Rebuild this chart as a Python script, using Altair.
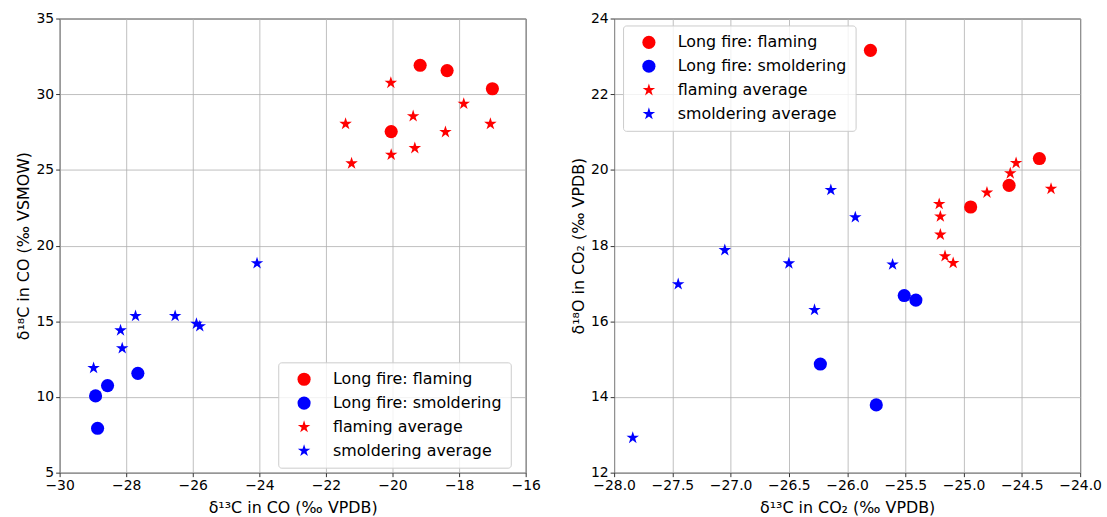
import altair as alt
import pandas as pd

# ---- data ----
series_names = ["Long fire: flaming", "Long fire: smoldering", "flaming average", "smoldering average"]

co_flaming_d13 = [-19.17, -18.36, -17.00, -20.04]
co_flaming_d18 = [31.91, 31.56, 30.36, 27.53]
co_smold_d13 = [-28.92, -28.56, -27.65, -28.86]
co_smold_d18 = [10.07, 10.75, 11.56, 7.93]
co_flavg_d13 = [-20.05, -21.41, -21.23, -20.04, -19.38, -19.33, -18.41, -17.86, -17.06]
co_flavg_d18 = [30.75, 28.04, 25.43, 26.00, 28.55, 26.44, 27.50, 29.37, 28.04]
co_smavg_d13 = [-28.98, -28.17, -28.12, -27.72, -26.53, -25.89, -25.79, -24.07]
co_smavg_d18 = [11.91, 14.40, 13.22, 15.35, 15.35, 14.84, 14.67, 18.83]

co2_flaming_d13 = [-25.80, -24.94, -24.61, -24.35]
co2_flaming_d18 = [23.16, 19.02, 19.59, 20.30]
co2_smold_d13 = [-26.23, -25.51, -25.41, -25.75]
co2_smold_d18 = [14.87, 16.68, 16.56, 13.79]
co2_flavg_d13 = [-25.21, -25.20, -25.20, -25.16, -25.09, -24.80, -24.60, -24.55, -24.25]
co2_flavg_d18 = [19.10, 18.77, 18.29, 17.72, 17.54, 19.40, 19.91, 20.18, 19.50]
co2_smavg_d13 = [-27.84, -27.45, -27.05, -26.50, -26.28, -26.14, -25.93, -25.61]
co2_smavg_d18 = [12.92, 16.98, 17.88, 17.53, 16.30, 19.47, 18.75, 17.50]

co_x_ticks = [-30, -28, -26, -24, -22, -20, -18, -16]
co_y_ticks = [5, 10, 15, 20, 25, 30, 35]
co2_x_ticks = [-28.0, -27.5, -27.0, -26.5, -26.0, -25.5, -25.0, -24.5, -24.0]
co2_y_ticks = [12, 14, 16, 18, 20, 22, 24]


def build(groups):
    rows = []
    for name, xs, ys in groups:
        for x, y in zip(xs, ys):
            rows.append({"series": name, "x": x, "y": y})
    return pd.DataFrame(rows)


co_df = build([
    (series_names[0], co_flaming_d13, co_flaming_d18),
    (series_names[1], co_smold_d13, co_smold_d18),
    (series_names[2], co_flavg_d13, co_flavg_d18),
    (series_names[3], co_smavg_d13, co_smavg_d18),
])
co2_df = build([
    (series_names[0], co2_flaming_d13, co2_flaming_d18),
    (series_names[1], co2_smold_d13, co2_smold_d18),
    (series_names[2], co2_flavg_d13, co2_flavg_d18),
    (series_names[3], co2_smavg_d13, co2_smavg_d18),
])

STAR = ("M0,-1L0.2245,-0.309L0.951,-0.309L0.363,0.118L0.588,0.809L0,0.382"
        "L-0.588,0.809L-0.363,0.118L-0.951,-0.309L-0.2245,-0.309Z")

color_scale = alt.Scale(domain=series_names, range=["#ff0000", "#0000ff", "#ff0000", "#0000ff"])
shape_scale = alt.Scale(domain=series_names, range=["circle", "circle", STAR, STAR])
size_scale = alt.Scale(domain=series_names, range=[175, 175, 205, 205])


def legend(x, y):
    return alt.Legend(
        title=None, orient="none", legendX=x, legendY=y,
        labelFontSize=16, labelColor="black", labelFont="DejaVu Sans",
        fillColor="rgba(255,255,255,0.8)", strokeColor="#cccccc",
        cornerRadius=3, padding=9, rowPadding=8, symbolOffset=9,
        labelOffset=21, symbolStrokeWidth=0, labelLimit=400,
        labelExpr="datum.label + '\u00a0\u00a0'",
    )


def panel(df, xdom, ydom, xticks, yticks, xtitle, ytitle, xfmt, lx, ly):
    lg = legend(lx, ly)
    return alt.Chart(df).mark_point(filled=True, opacity=1, strokeWidth=0).encode(
        x=alt.X("x:Q", scale=alt.Scale(domain=xdom, nice=False, zero=False),
                axis=alt.Axis(values=xticks, format=xfmt, title=xtitle, titlePadding=7)),
        y=alt.Y("y:Q", scale=alt.Scale(domain=ydom, nice=False, zero=False),
                axis=alt.Axis(values=yticks, format="d", title=ytitle)),
        color=alt.Color("series:N", scale=color_scale, legend=lg),
        shape=alt.Shape("series:N", scale=shape_scale, legend=lg),
        size=alt.Size("series:N", scale=size_scale, legend=lg),
    ).properties(width=469, height=457)


left = panel(co_df, [-30, -16], [5, 35], co_x_ticks, co_y_ticks,
             "δ¹³C in CO (‰ VPDB)", "δ¹⁸C in CO (‰ VSMOW)", "d", 220, 346)
right = panel(co2_df, [-28, -24], [12, 24], co2_x_ticks, co2_y_ticks,
              "δ¹³C in CO₂ (‰ VPDB)", "δ¹⁸O in CO₂ (‰ VPDB)", ".1f", 9, 7)

chart = alt.hconcat(left, right, spacing=28).resolve_scale(
    color="independent", shape="independent", size="independent"
).properties(
    padding={"left": 15, "top": 9, "right": 5, "bottom": 2}
).configure(
    font="DejaVu Sans"
).configure_view(
    stroke="#333333", strokeWidth=1
).configure_axis(
    domain=False, tickColor="#333333", tickSize=4, labelPadding=2,
    labelFontSize=14, titleFontSize=16, titleFontWeight="normal",
    labelColor="black", titleColor="black", labelFlush=False, labelOverlap=False,
    gridColor="#b0b0b0", gridWidth=0.8, titlePadding=4,
)

chart.save("out.html", embed_options={"renderer": "svg", "actions": False})
